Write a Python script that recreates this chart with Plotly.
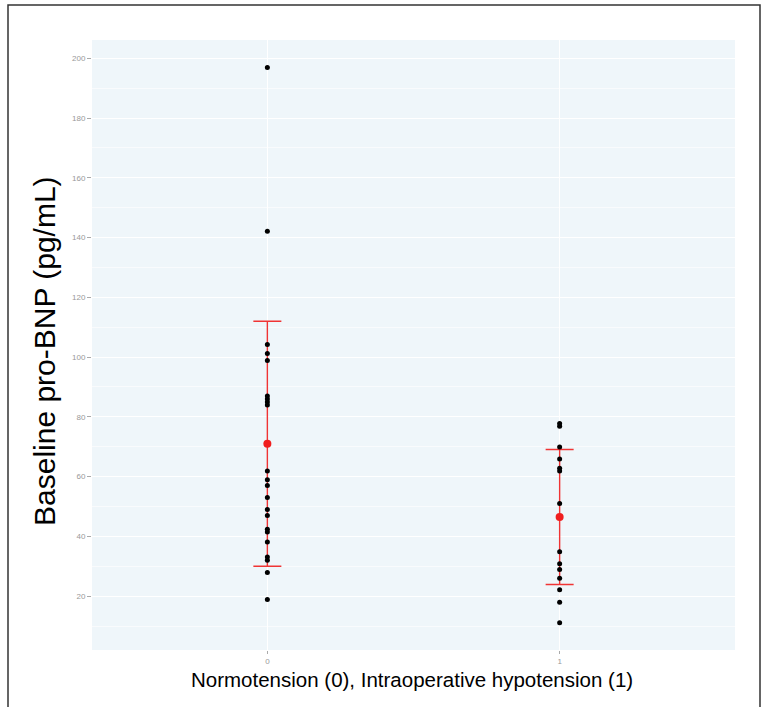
import plotly.graph_objects as go

# Data
groups = [0, 1]
group0_values = [196.9, 142.1, 104.2, 101.2, 98.9, 87.0, 86.0, 85.0, 84.0,
                 61.9, 59.0, 57.0, 53.0, 49.0, 47.0, 42.4, 41.5, 38.1,
                 33.1, 32.0, 27.9, 18.9]
group1_values = [77.8, 76.9, 69.9, 65.9, 62.8, 61.9, 51.0, 34.9, 30.9,
                 28.9, 26.0, 22.2, 18.0, 11.1]
group_means = [71.0, 46.5]
group_sd = [41.0, 22.6]
y_ticks = [20, 40, 60, 80, 100, 120, 140, 160, 180, 200]
x_ticks = [0, 1]
x_title = "Normotension (0), Intraoperative hypotension (1)"
y_title = "Baseline pro-BNP (pg/mL)"

W, H = 765, 707
L, R, T, B = 92, 30, 40, 57
pw, ph = W - L - R, H - T - B

fig = go.Figure()

# error bars (mean +/- SD)
fig.add_trace(go.Scatter(
    x=groups, y=group_means, mode="markers",
    marker=dict(color="rgba(0,0,0,0)", size=1),
    error_y=dict(type="data", array=group_sd, symmetric=True,
                 color="#F03434", thickness=1.4, width=14),
    hoverinfo="skip", showlegend=False))

# raw points
fig.add_trace(go.Scatter(
    x=[groups[0]] * len(group0_values) + [groups[1]] * len(group1_values),
    y=group0_values + group1_values, mode="markers",
    marker=dict(color="black", size=5), showlegend=False))

# means
fig.add_trace(go.Scatter(
    x=groups, y=group_means, mode="markers",
    marker=dict(color="#F01E1E", size=8), showlegend=False))

fig.update_layout(
    width=W, height=H,
    margin=dict(l=L, r=R, t=T, b=B, pad=0),
    paper_bgcolor="white", plot_bgcolor="#EFF6FA",
    font=dict(family="Liberation Sans, Arial, sans-serif", color="black"),
    showlegend=False,
)
fig.update_xaxes(
    range=[-0.6, 1.6], tickvals=x_ticks, ticktext=[str(v) for v in x_ticks],
    showgrid=True, gridcolor="white", gridwidth=1, zeroline=False,
    ticks="outside", ticklen=3, tickcolor="#AAAAAA", tickwidth=1,
    tickfont=dict(size=8, color="#999999"), showline=False,
)
fig.update_yaxes(
    range=[2, 206.1], tickvals=y_ticks, ticktext=[str(v) for v in y_ticks],
    showgrid=True, gridcolor="white", gridwidth=1, zeroline=False,
    ticks="outside", ticklen=4, tickcolor="#AAAAAA", tickwidth=1,
    tickfont=dict(size=8, color="#999999"), showline=False,
    minor=dict(tickvals=[10, 30, 50, 70, 90, 110, 130, 150, 170, 190],
               showgrid=True, gridcolor="rgba(255,255,255,0.6)", gridwidth=0.5,
               ticks=""),
)

# axis titles as annotations for precise placement
fig.add_annotation(text=y_title, textangle=-90, showarrow=False,
                   xref="paper", yref="paper",
                   x=(44 - L) / pw, y=(T + ph - 351) / ph,
                   xanchor="center", yanchor="middle",
                   font=dict(size=30, color="black"))
fig.add_annotation(text=x_title, showarrow=False,
                   xref="paper", yref="paper",
                   x=(412 - L) / pw, y=-(679 - (T + ph)) / ph,
                   xanchor="center", yanchor="middle",
                   font=dict(size=20.5, color="black"))

# outer frame
fig.add_shape(type="rect", xref="paper", yref="paper",
              x0=(8 - L) / pw, x1=(760 - L) / pw,
              y0=-(720 - (T + ph)) / ph, y1=1 + (T - 5) / ph,
              line=dict(color="#333333", width=1.5), fillcolor="rgba(0,0,0,0)",
              layer="above")

fig.write_html("out.html",
               config={"displayModeBar": False},
               post_script="document.body.style.margin='0';document.body.style.padding='0';")
